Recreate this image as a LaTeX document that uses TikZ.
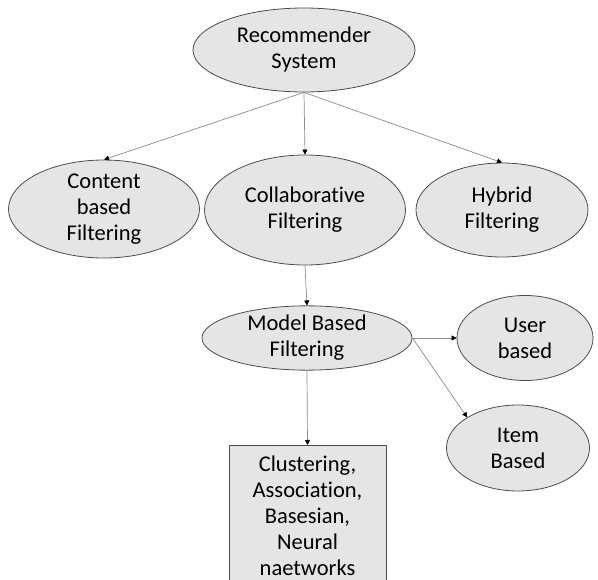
\documentclass[tikz,border=0pt]{standalone}
\usepackage{fontspec}
\setmainfont{Carlito}[Ligatures={NoCommon,NoRare}]
\usepackage{xcolor}
\usetikzlibrary{arrows.meta,positioning,shapes.geometric}

\begin{document}
\begin{tikzpicture}[x=1pt, y=-1pt, ->, >={Triangle[length=5pt, width=5pt, color=black]},
  font=\fontsize{22.5}{26}\selectfont,
  every edge/.style={draw=black!45, line width=0.7pt},
  oval/.style={ellipse, draw=black!70, fill=black!10, line width=0.8pt, inner sep=0pt, align=center},
  block/.style={rectangle, draw=black!70, fill=black!10, line width=0.8pt, align=center}]
  \clip (0,0) rectangle (598,580);
  \node[oval, minimum width=222pt, minimum height=84pt] (RS) at (304,50) {Recommender\\System};
  \node[oval, minimum width=191pt, minimum height=98pt, inner ysep=-4pt] (CB) at (104,209) {Content\\based\\Filtering};
  \node[oval, minimum width=201pt, minimum height=110pt] (CF) at (305,210) {Collaborative\\Filtering};
  \node[oval, minimum width=172pt, minimum height=94pt] (HF) at (502,210) {Hybrid\\Filtering};
  \node[oval, minimum width=210pt, minimum height=63pt] (MB) at (307,338) {Model Based\\Filtering};
  \node[oval, minimum width=136pt, minimum height=85pt] (UB) at (525,338) {User\\based};
  \node[oval, minimum width=143pt, minimum height=86pt] (IB) at (518,448) {Item\\Based};
  \node[block, minimum width=157pt, minimum height=140pt, anchor=north] (AL) at (307.5,445)
    {Clustering,\\Association,\\Basesian,\\Neural\\naetworks};

  \path (RS.south) edge (CB.north)
        (RS.south) edge (CF.north)
        (RS.south) edge (HF.north)
        (CF.south) edge (MB.north)
        (MB.east) edge (UB.west)
        (MB.east) edge (IB.north west)
        (MB.south) edge (AL.north)
        ;
\end{tikzpicture}
\end{document}
